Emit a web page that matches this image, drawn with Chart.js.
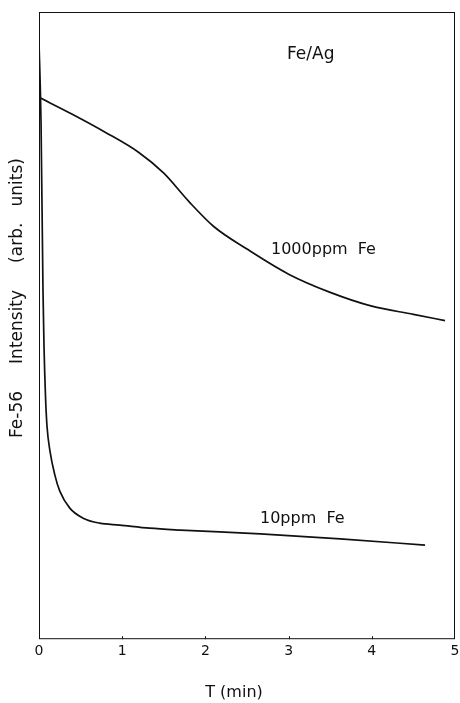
<!DOCTYPE html>
<html>
<head>
<meta charset="utf-8">
<script src="https://cdn.jsdelivr.net/npm/chart.js@4/dist/chart.umd.min.js"></script>
<style>
  html, body { margin: 0; padding: 0; background: #fff; }
  #wrap { width: 460px; height: 703px; position: relative; }
</style>
</head>
<body>
<div id="wrap"><canvas id="c"></canvas></div>
<script>
// Time axis ticks (minutes)
const timeTicks = [0, 1, 2, 3, 4, 5];

// 1000 ppm Fe sample: initial transient at t = 0, then the decay
const t1000Start = [0, 0];
const i1000Start = [95.2, 86.4];
const t1000 = [0, 0.4, 0.8, 1.2, 1.5, 1.8, 2.1, 2.5, 3.0, 3.5, 4.0, 4.5, 4.88];
const i1000 = [86.4, 83.7, 80.8, 77.6, 74.3, 69.8, 65.8, 62.2, 58.2, 55.3, 53.1, 51.8, 50.8];

// 10 ppm Fe sample
const t10 = [0, 0.024, 0.048, 0.06, 0.078, 0.096, 0.132, 0.19, 0.25, 0.37, 0.53, 0.73, 0.97, 1.33, 1.70, 2.66, 3.62, 4.64];
const i10 = [95.2, 82.7, 55.6, 46.8, 38.8, 34.0, 30.0, 26.2, 23.6, 20.9, 19.3, 18.5, 18.2, 17.7, 17.4, 16.8, 16.0, 15.0];

const FONT = "'DejaVu Sans', sans-serif";
const INK = '#111';

const toPoints = (ts, vs) => ts.map((t, k) => ({ x: t, y: vs[k] }));

// Frame, inward tick marks and in-plot text
const decor = {
  id: 'decor',
  afterDraw(chart) {
    const { ctx, chartArea: a, scales } = chart;
    ctx.save();
    ctx.strokeStyle = INK;
    ctx.lineWidth = 1;
    ctx.strokeRect(a.left + 0.5, a.top + 0.5, a.right - a.left - 1, a.bottom - a.top - 1);
    // short tick marks pointing into the plot
    timeTicks.slice(1, -1).forEach(v => {
      const x = Math.round(scales.x.getPixelForValue(v)) + 0.5;
      ctx.beginPath();
      ctx.moveTo(x, a.bottom);
      ctx.lineTo(x, a.bottom - 3);
      ctx.stroke();
    });
    ctx.fillStyle = INK;
    ctx.textBaseline = 'middle';
    ctx.textAlign = 'left';
    ctx.font = `17px ${FONT}`;
    ctx.fillText('Fe/Ag', 287, 55);
    ctx.font = `16px ${FONT}`;
    ctx.fillText('1000ppm  Fe', 271, 250);
    ctx.fillText('10ppm  Fe', 260, 519);
    // x axis title
    ctx.textAlign = 'center';
    ctx.font = `16px ${FONT}`;
    ctx.fillText('T (min)', 234, 693);
    // y axis title, rotated
    ctx.translate(18, 298);
    ctx.rotate(-Math.PI / 2);
    ctx.font = `17px ${FONT}`;
    ctx.fillText('Fe-56     Intensity     (arb.   units)', 0, 0);
    ctx.restore();
  }
};

const lineStyle = {
  borderColor: INK,
  borderWidth: 1.7,
  pointRadius: 0,
  fill: false,
  cubicInterpolationMode: 'monotone'
};

new Chart(document.getElementById('c'), {
  type: 'line',
  data: {
    datasets: [
      Object.assign({ label: '1000ppm Fe (t=0)', data: toPoints(t1000Start, i1000Start) }, lineStyle, { tension: 0, cubicInterpolationMode: 'default' }),
      Object.assign({ label: '1000ppm Fe', data: toPoints(t1000, i1000) }, lineStyle),
      Object.assign({ label: '10ppm Fe', data: toPoints(t10, i10) }, lineStyle)
    ]
  },
  options: {
    responsive: true,
    maintainAspectRatio: false,
    animation: false,
    devicePixelRatio: 1,
    layout: { padding: { left: 39, right: 5, top: 12, bottom: 39 } },
    plugins: { legend: { display: false }, tooltip: { enabled: false } },
    scales: {
      x: {
        type: 'linear',
        min: 0,
        max: 5,
        afterBuildTicks: s => { s.ticks = timeTicks.map(v => ({ value: v })); },
        afterFit: s => { s.paddingLeft = 0; s.paddingRight = 0; },
        grid: { display: false, drawTicks: false },
        border: { display: false },
        ticks: { color: INK, padding: 4, font: { family: FONT, size: 14 }, maxRotation: 0, autoSkip: false }
      },
      y: {
        type: 'linear',
        min: 0,
        max: 100,
        display: false
      }
    }
  },
  plugins: [decor]
});
</script>
</body>
</html>
